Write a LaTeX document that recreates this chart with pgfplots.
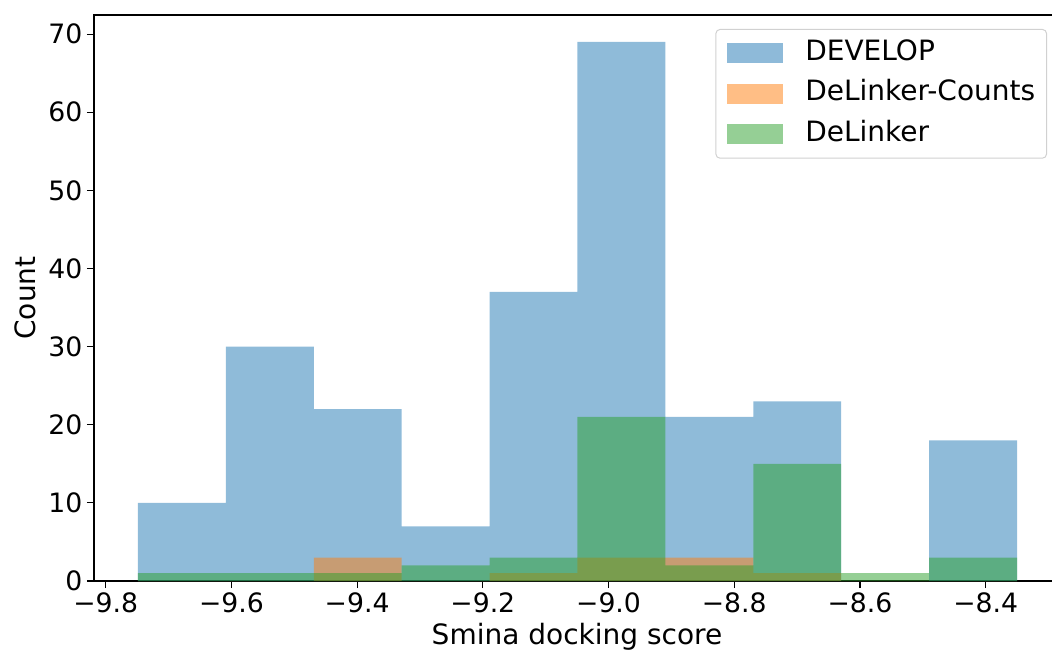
\documentclass[border=0pt]{standalone}
\usepackage{fontspec}
\setmainfont{DejaVu Sans}
\usepackage{pgfplots}
\pgfplotsset{compat=1.18}
\definecolor{tabblue}{RGB}{31,119,180}
\definecolor{taborange}{RGB}{255,127,14}
\definecolor{tabgreen}{RGB}{44,160,44}
\newcommand{\lbl}{\fontsize{20}{24}\selectfont}
\newcommand{\txt}{\fontsize{21}{25}\selectfont}

\begin{document}
\begin{tikzpicture}
\begin{axis}[
  scale only axis, width=718.5pt, height=424.5pt,
  xmin=-9.8186, xmax=-8.2945, ymin=0, ymax=72.45,
  axis x line*=bottom, axis y line*=left,
  axis line style={-, line width=0.9pt},
  tick align=outside, major tick length=5.25pt,
  tick style={line width=0.9pt, black},
  xtick={-9.8,-9.6,-9.4,-9.2,-9.0,-8.8,-8.6,-8.4},
  xticklabels={−9.8,−9.6,−9.4,−9.2,−9.0,−8.8,−8.6,−8.4},
  ytick={0,10,...,70},
  /pgf/number format/assume math mode=true,
  tick label style={font=\lbl},
  xlabel={Smina docking score}, ylabel={Count},
  every axis x label/.style={at={(rel axis cs:0.5042,0)}, anchor=center, yshift=-41.6pt, font=\txt},
  every axis y label/.style={at={(rel axis cs:0,0.5)}, anchor=center, rotate=90, yshift=51.75pt, font=\txt},
  clip=false,
  legend cell align=left,
  legend image code/.code={\fill[#1, draw=none, sharp corners] (0pt,-7.5pt) rectangle (42pt,7.5pt);},
  legend style={at={(0.9948,0.9753)}, anchor=north east, draw=black!18, line width=0.75pt,
    rounded corners=3pt, fill=white, fill opacity=0.8, text opacity=1, font=\txt,
    inner xsep=8.5pt, inner ysep=8pt, row sep=11pt,
    nodes={inner sep=0pt, text height=15pt, text depth=4.5pt},
    /tikz/every odd column/.append style={column sep=16.5pt}},
]
% bin centres, bin width 0.13984
\addplot[ybar, bar width=0.13984, bar shift=0pt, fill=tabblue, fill opacity=0.5, draw=none]
  coordinates {(-9.6787,10) (-9.5389,30) (-9.3990,22) (-9.2592,7) (-9.1193,37)
               (-8.9795,69) (-8.8397,21) (-8.6998,23) (-8.5600,0) (-8.4201,18)};
\addlegendentry{DEVELOP}
\addplot[ybar, bar width=0.13984, bar shift=0pt, fill=taborange, fill opacity=0.5, draw=none]
  coordinates {(-9.6787,0) (-9.5389,0) (-9.3990,3) (-9.2592,0) (-9.1193,1)
               (-8.9795,3) (-8.8397,3) (-8.6998,1) (-8.5600,0) (-8.4201,0)};
\addlegendentry{DeLinker-Counts}
\addplot[ybar, bar width=0.13984, bar shift=0pt, fill=tabgreen, fill opacity=0.5, draw=none]
  coordinates {(-9.6787,1) (-9.5389,1) (-9.3990,1) (-9.2592,2) (-9.1193,3)
               (-8.9795,21) (-8.8397,2) (-8.6998,15) (-8.5600,1) (-8.4201,3)};
\addlegendentry{DeLinker}
\draw[line width=0.9pt, line cap=rect] (rel axis cs:0,1) -- (rel axis cs:1,1);
\coordinate (bl) at (rel axis cs:0,0);
\coordinate (tr) at (rel axis cs:1,1);
\end{axis}
\pgfresetboundingbox
\path ([xshift=-70.5pt,yshift=-54.75pt]bl) rectangle ([yshift=11.25pt]tr);
\end{tikzpicture}
\end{document}
